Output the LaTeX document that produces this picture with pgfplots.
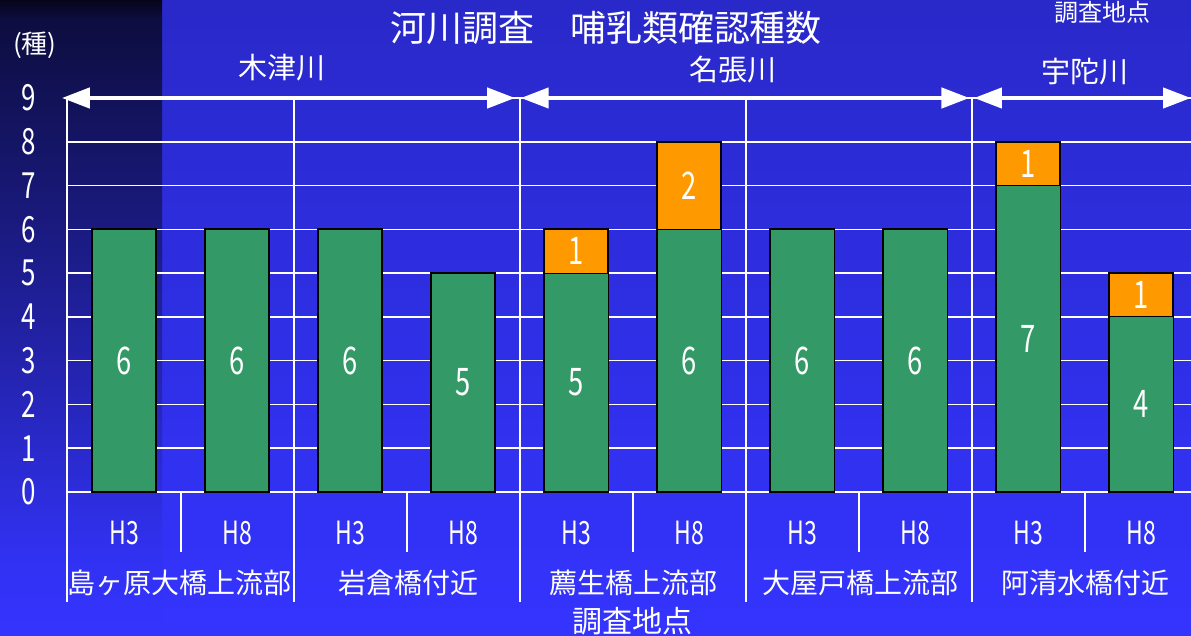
\documentclass[border=0pt]{standalone}
\usepackage{pgfplots}
\pgfplotsset{compat=1.18}
\usepackage{fontspec}
\setmainfont{Noto Sans CJK JP}
\newfontfamily\narrow[FakeStretch=0.72]{Noto Sans CJK JP}
\usetikzlibrary{arrows.meta}
\definecolor{bgtop}{HTML}{2929C9}
\definecolor{bgbot}{HTML}{3434FF}
\definecolor{bargreen}{HTML}{339966}
\definecolor{barorange}{HTML}{FF9900}
\pgfdeclareverticalshading{panel}{100bp}{%
  color(0bp)=(bgbot); color(25bp)=(bgbot); color(31bp)=(bgbot!95!black);
  color(37bp)=(bgbot!85!black); color(44bp)=(bgbot!72!black);
  color(59bp)=(bgbot!47!black); color(73.5bp)=(bgbot!25!black);
  color(75bp)=(bgbot!10!black); color(100bp)=(bgbot!10!black)}
\newcommand\tk{\narrow\fontsize{16pt}{16pt}\selectfont}
\newcommand\yk{\narrow\fontsize{18pt}{18pt}\selectfont}
\newcommand\vl{\narrow\fontsize{19pt}{19pt}\selectfont}

\begin{document}
\begin{tikzpicture}
\path[use as bounding box] (0,0) rectangle (595.5pt,-318pt);
\clip (0,0) rectangle (595.5pt,-318pt);
\begin{scope}[x=0.5pt,y=-0.5pt]
\fill[top color=bgtop,bottom color=bgbot] (0,0) rectangle (1191,636);
\shade[shading=panel] (0,0) rectangle (162,636);
\end{scope}

\begin{axis}[
  at={(33.75pt,-246pt)}, anchor=south west,
  scale only axis, width=561.75pt, height=197pt,
  xmin=-0.5, xmax=9.44, ymin=0, ymax=9,
  clip=false,
  axis x line*=bottom, axis y line*=left,
  axis line style={white, line width=1pt},
  xtick={0,...,9},
  xticklabels={H3,H8,H3,H8,H3,H8,H3,H8,H3,H8},
  ytick={0,...,9},
  yticklabels={0,1,2,3,4,5,6,7,8,9},
  major tick length=0pt,
  ymajorgrids,
  major grid style={white, line width=0.75pt},
  extra x ticks={1.5,3.5,5.5,7.5},
  extra x tick labels={},
  extra x tick style={xmajorgrids=true, major grid style={white, line width=1pt}},
  xticklabel style={font=\tk, text=white, anchor=center, yshift=-20.5pt},
  yticklabel style={font=\yk, text=white, anchor=center, xshift=-19.5pt},
]
% total (green + orange)
\addplot[ybar, bar shift=0pt, bar width=32pt, fill=barorange, draw=black, line width=1pt]
  coordinates {(0,6) (1,6) (2,6) (3,5) (4,6) (5,8) (6,6) (7,6) (8,8) (9,5)};
% green part
\addplot[ybar, bar shift=0pt, bar width=32pt, fill=bargreen, draw=black, line width=0.6pt]
  coordinates {(0,6) (1,6) (2,6) (3,5) (4,5) (5,6) (6,6) (7,6) (8,7) (9,4)};
% value labels, centred in each segment
\addplot[draw=none, mark=none, point meta=explicit symbolic, nodes near coords,
  nodes near coords style={anchor=center, text=white, font=\vl}]
  table[meta=lab] {
x y lab
0 3 6
1 3 6
2 3 6
3 2.5 5
4 2.5 5
5 3 6
6 3 6
7 3 6
8 3.5 7
9 2 4
4 5.5 1
5 7 2
8 7.5 1
9 4.5 1
};
% dividers below the axis
\pgfplotsinvokeforeach{-0.5,1.5,3.5,5.5,7.5}{
  \draw[white, line width=1pt] (axis cs:#1,0) -- ++(0pt,-55pt);}
\pgfplotsinvokeforeach{0.5,2.5,4.5,6.5,8.5}{
  \draw[white, line width=1pt] (axis cs:#1,0) -- ++(0pt,-30pt);}
% river spans
\tikzset{riv/.style={white, line width=2.2pt, {Triangle[length=14pt,width=10pt]}-{Triangle[length=14pt,width=10pt]}}}
\draw[riv] (axis cs:-0.55,9) -- (axis cs:3.46,9);
\draw[riv] (axis cs:3.51,9) -- (axis cs:7.48,9);
\draw[riv] (axis cs:7.52,9) -- (axis cs:9.44,9);
\end{axis}

\begin{scope}[x=0.5pt,y=-0.5pt, every node/.style={text=white, inner sep=0pt}]
\node[font=\fontsize{18pt}{18pt}\selectfont] at (606,28) {河川調査　哺乳類確認種数};
\node[font=\fontsize{13pt}{14pt}\selectfont] at (35,45) {(種)};
\node[font=\fontsize{12pt}{13pt}\selectfont] at (1102,12) {調査地点};
\node[font=\fontsize{14.5pt}{15pt}\selectfont] at (282,68) {木津川};
\node[font=\fontsize{14.5pt}{15pt}\selectfont] at (733,70) {名張川};
\node[font=\fontsize{14.5pt}{15pt}\selectfont] at (1085,72) {宇陀川};
\foreach \cx/\nm in {180/島ヶ原大橋上流部, 408/岩倉橋付近, 633/薦生橋上流部, 860/大屋戸橋上流部, 1085/阿清水橋付近}
  \node[font=\fontsize{14pt}{15pt}\selectfont] at (\cx,583) {\nm};
\node[font=\fontsize{15pt}{16pt}\selectfont] at (632,621) {調査地点};
\end{scope}
\end{tikzpicture}
\end{document}
